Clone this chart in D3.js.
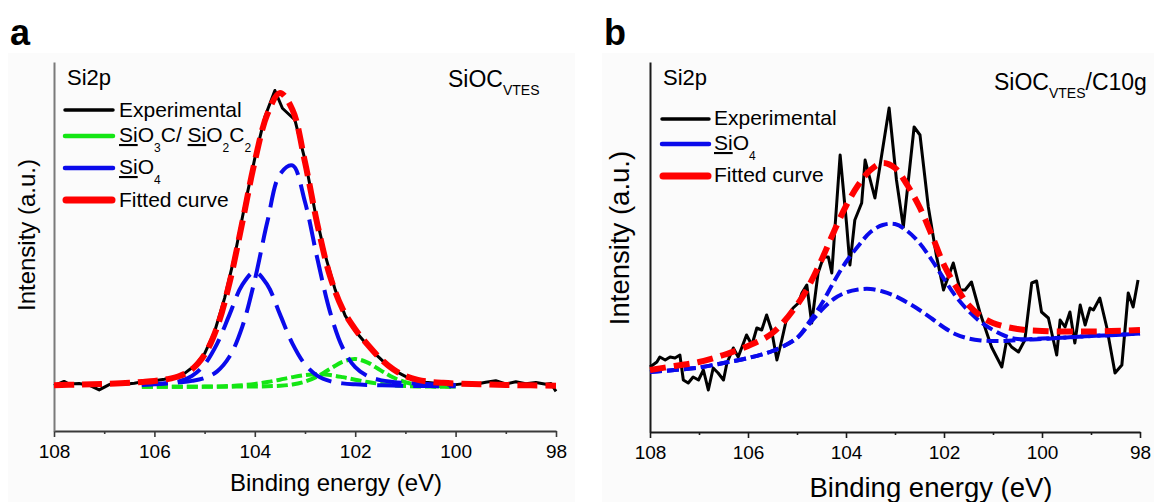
<!DOCTYPE html>
<html><head><meta charset="utf-8">
<script src="https://cdn.jsdelivr.net/npm/d3@7"></script>
<style>
body{margin:0;background:#fff}
svg{display:block}
text{font-family:"Liberation Sans",Arial,sans-serif;fill:#000}
</style>
</head><body>
<svg id="c" width="1154" height="502"></svg>
<script>
// ---------------- DATA ----------------
const majorTicks = [108,106,104,102,100,98];
const minorTicks = [107,105,103,101,99];

// Panel a : experimental
const aExpX = [108,107.8,107.7,107.5,107.3,107.1,106.9,106.8,106.6,106.4,106.2,106,105.8,105.6,105.4,105.2,105,104.8,104.6,104.4,104.2,104,103.8,103.6,103.45,103.2,103,102.8,102.6,102.4,102.2,102,101.8,101.6,101.4,101.2,101,100.8,100.6,100.4,100.2,100,99.8,99.6,99.4,99.2,99,98.8,98.6,98.4,98.2,98.1,98];
const aExpY = [0.5,1.9,1.0,1.2,0.6,-1.0,0.8,1.5,0.9,1.3,1.9,2.1,2.6,3.4,4.6,7.2,11.3,18.8,30.2,44.5,61.5,77.5,91.5,100.5,94.5,90.5,77.0,59.5,44.8,33.0,24.2,19.0,15.0,11.2,8.0,5.4,3.6,2.5,1.6,1.3,1.4,0.8,1.2,0.9,1.6,2.1,1.0,1.8,1.1,1.5,0.9,1.2,-1.5];

// Panel a : fitted curve
const aFitX = [108,107.5,107,106.5,106.25,106,105.75,105.5,105.25,105,104.75,104.5,104.25,104,103.75,103.5,103.25,103,102.75,102.5,102.25,102,101.75,101.5,101.25,101,100.75,100.5,100.25,100,99.5,99,98.5,98];
const aFitY = [0.63,0.8,1.03,1.4,1.7,2.05,2.62,3.7,6.01,10.94,20.3,35.6,55.7,76.5,92.5,99.7,94.0,76.2,54.9,37.5,26.4,19.6,14.3,9.66,6.08,3.71,2.42,1.75,1.4,1.17,0.9,0.68,0.55,0.44];

// Panel a : components
const aCompX = [106.25,106,105.75,105.5,105.25,105,104.75,104.5,104.25,104,103.75,103.5,103.25,103,102.75,102.5,102.25,102,101.75,101.5,101.25,101,100.75,100.5,100.25,100];
const aSiO4a = [0.89,1.06,1.27,1.58,2.07,3.06,5.3,10.4,20.4,36.3,56,72.1,75.1,62.7,43.2,25.4,13.3,6.7,3.66,2.34,1.72,1.36,1.13,0.95,0.81,0.69];
const aSiO4b = [0.70,0.89,1.22,1.97,3.76,7.67,14.7,24.7,34.6,39,34.6,24.7,14.7,7.67,3.76,1.97,1.22,0.89,0.70,0.57,0.48,0.40,0.35,0.30,0.26,0.23];
const aSiOCa = [0.04,0.04,0.05,0.06,0.07,0.08,0.09,0.11,0.14,0.17,0.24,0.41,0.84,1.82,3.62,6.14,8.55,9.5,8.24,5.72,3.28,1.61,0.74,0.37,0.24,0.17];
const aSiOCb = [0.05,0.055,0.065,0.08,0.1,0.13,0.2,0.34,0.6,1.03,1.67,2.48,3.34,4.03,4.3,4.03,3.34,2.48,1.67,1.03,0.6,0.34,0.2,0.13,0.1,0.08];

// Panel b : experimental
const bExpX = [108,107.86,107.8,107.69,107.59,107.49,107.39,107.32,107.22,107.12,107.01,106.91,106.81,106.71,106.61,106.5,106.43,106.3,106.2,106.03,105.92,105.82,105.72,105.62,105.52,105.41,105.31,105.21,105.08,104.97,104.9,104.8,104.7,104.57,104.46,104.36,104.29,104.12,103.99,103.92,103.82,103.68,103.61,103.41,103.12,102.97,102.83,102.61,102.49,102.32,102.15,102.01,101.81,101.67,101.57,101.44,101.27,101.03,100.82,100.72,100.62,100.48,100.35,100.21,100.11,100.01,99.87,99.7,99.63,99.53,99.43,99.33,99.22,99.12,99.02,98.95,98.82,98.68,98.51,98.37,98.24,98.14,98.04];
const bExpY = [65,70,75,72,75,74,77,52,49,55,52,62,42,64,59,52,69,84,75,97,87,104,102,117,102,72,92,114,124,129,139,147,109,159,175,175,159,277,209,167,212,229,272,234,324,252,205,305,297,225,175,142,169,142,142,150,120,85,65,92,85,80,92,149,151,120,114,77,112,105,120,89,127,107,124,122,134,105,59,67,139,125,152];

// Panel b : fitted curve
const bFitX = [108,107.5,107,106.5,106,105.5,105,104.75,104.5,104.25,104,103.75,103.5,103.25,103,102.75,102.5,102.25,102,101.75,101.5,101.25,101,100.5,100,99,98];
const bFitY = [62,66,70,77,86,99,127,147,172,200,226,247,262,269,264,247,225,197,167,145,127,116,109,103,101,100.5,102];

// Panel b : SiO4 components
const bCompX = [108,107.5,107,106.5,106,105.5,105,104.75,104.5,104.25,104,103.75,103.5,103.25,103,102.75,102.5,102.25,102,101.75,101.5,101.25,101,100.75,100.5,100,99.5,99,98.5,98];
const bSiO4a = [60,62,64.5,69,74,81,94,110,128,150,170,186,200,207,208,201,189,172,153,135,121,110,102,96,93,93,94.5,96,97,98.5];
const bSiO4b = [60,62,64.5,69,74,81,94,108,122,133,139.5,142.5,143,140.5,136,129.5,122,113.5,104.5,97.5,93.5,91.5,91,91,92,93.5,94.5,96,97,98.5];

// ---------------- DRAW ----------------
const svg = d3.select("#c");
const FONT = '"Liberation Sans",Arial,sans-serif';
const zip = (xs, ys) => xs.map((v,i)=>[v, ys[i]]);

svg.append("rect").attr("x",8).attr("y",53).attr("width",567).attr("height",449).attr("fill","#fbfbfb");
svg.append("rect").attr("x",602).attr("y",53).attr("width",552).attr("height",449).attr("fill","#fbfbfb");

function panel(cfg){
  const g = svg.append("g");
  const x = d3.scaleLinear().domain([108,98]).range([cfg.x0, cfg.x1]);
  const y = d3.scaleLinear().domain(cfg.yDom).range([cfg.yb, cfg.yt]);

  // minor ticks
  g.append("g").attr("transform",`translate(0,${cfg.yb})`)
    .call(d3.axisBottom(x).tickValues(minorTicks).tickSize(3).tickFormat(""))
    .call(s=>s.select(".domain").remove())
    .call(s=>s.selectAll("line").attr("stroke",cfg.axCol).attr("stroke-width",1.6));
  // major axis
  const ax = g.append("g").attr("transform",`translate(0,${cfg.yb})`)
    .call(d3.axisBottom(x).tickValues(majorTicks).tickSize(6).tickSizeOuter(0).tickPadding(8).tickFormat(d3.format("d")));
  ax.select(".domain").attr("stroke",cfg.axCol).attr("stroke-width",2);
  ax.selectAll("line").attr("stroke",cfg.axCol).attr("stroke-width",1.6);
  ax.selectAll("text").attr("font-size",19).attr("font-family",FONT).attr("fill","#000");
  // left axis (no ticks)
  g.append("g").attr("transform",`translate(${cfg.x0},0)`)
    .call(d3.axisLeft(y).tickValues([]).tickSizeOuter(0))
    .select(".domain").attr("stroke",cfg.leftCol).attr("stroke-width",2);

  // axis titles
  g.append("text").attr("x",cfg.xtX).attr("y",cfg.xtY).attr("text-anchor","middle")
    .attr("font-size",cfg.titleSize).text("Binding energy (eV)");
  g.append("text").attr("transform",`translate(${cfg.ytX},${cfg.ytC}) rotate(-90)`).attr("text-anchor","middle")
    .attr("font-size",cfg.titleSize).text("Intensity (a.u.)");

  const line = d3.line().x(d=>x(d[0])).y(d=>y(d[1]));
  return {g, x, y, line};
}
const smooth = d3.curveCatmullRom.alpha(0.5);

// ---------- Panel a ----------
const A = panel({x0:54,x1:556,yb:431,yt:62,yDom:[-14.92,110.17],axCol:"#3a3a3a",leftCol:"#7a7a7a",
  xtX:336,xtY:491,ytX:35,ytC:235,titleSize:24});
const aLine = d3.line().x(d=>A.x(d[0])).y(d=>A.y(d[1]));
A.g.append("path").datum(zip(aExpX,aExpY)).attr("d",aLine.curve(d3.curveLinear))
  .attr("fill","none").attr("stroke","#000").attr("stroke-width",3).attr("stroke-linejoin","round");
[aSiOCb,aSiOCa].forEach(ys=>{
  A.g.append("path").datum(zip(aCompX,ys)).attr("d",aLine.curve(smooth))
   .attr("fill","none").attr("stroke","#14e614").attr("stroke-width",4).attr("stroke-dasharray","11,4");
});
[aSiO4b,aSiO4a].forEach(ys=>{
  A.g.append("path").datum(zip(aCompX,ys)).attr("d",aLine.curve(smooth))
   .attr("fill","none").attr("stroke","#0a0aeb").attr("stroke-width",4).attr("stroke-dasharray","26,10");
});
A.g.append("path").datum(zip(aFitX,aFitY)).attr("d",aLine.curve(smooth))
  .attr("fill","none").attr("stroke","#f00").attr("stroke-width",6).attr("stroke-dasharray","20,8");

// ---------- Panel b ----------
const B = panel({x0:650,x1:1140,yb:432,yt:62,yDom:[0,370],axCol:"#1a1a1a",leftCol:"#1a1a1a",
  xtX:931,xtY:497,ytX:629,ytC:238,titleSize:27.5});
const bLine = d3.line().x(d=>B.x(d[0])).y(d=>B.y(d[1]));
B.g.append("path").datum(zip(bExpX,bExpY)).attr("d",bLine.curve(d3.curveLinear))
  .attr("fill","none").attr("stroke","#000").attr("stroke-width",3).attr("stroke-linejoin","round");
[bSiO4b,bSiO4a].forEach(ys=>{
  B.g.append("path").datum(zip(bCompX,ys)).attr("d",bLine.curve(smooth))
   .attr("fill","none").attr("stroke","#0a0aeb").attr("stroke-width",4).attr("stroke-dasharray","12,5");
});
B.g.append("path").datum(zip(bFitX,bFitY)).attr("d",bLine.curve(smooth))
  .attr("fill","none").attr("stroke","#f00").attr("stroke-width",6).attr("stroke-dasharray","16,8");

// ---------- Labels & legends ----------
function txt(x,y,size,str,weight){
  return svg.append("text").attr("x",x).attr("y",y).attr("font-size",size).attr("font-weight",weight||"normal").text(str);
}
txt(10,45,36,"a","bold");
txt(604,45,36,"b","bold");
txt(67,85,22,"Si2p");
txt(663,85,22,"Si2p");

function title(x,y,extra){
  const t = svg.append("text").attr("x",x).attr("y",y).attr("font-size",23);
  t.append("tspan").text("SiOC");
  t.append("tspan").attr("font-size",14).attr("dy",8).text("VTES");
  if(extra) t.append("tspan").attr("dy",-8).text(extra);
}
title(448,87);
title(994,90,"/C10g");

function legLine(x0,x1,y,col,w){
  svg.append("line").attr("x1",x0).attr("x2",x1).attr("y1",y).attr("y2",y)
    .attr("stroke",col).attr("stroke-width",w).attr("stroke-linecap","round");
}
function chem(x,y,parts){
  const t = svg.append("text").attr("x",x).attr("y",y).attr("font-size",21);
  let shift = 0;
  parts.forEach(p=>{
    const s = t.append("tspan");
    if(p.sub){ s.attr("font-size",12).attr("dy",10-shift); shift=10; }
    else { s.attr("dy",-shift); shift=0; }
    if(p.u) s.attr("text-decoration","underline");
    s.text(p.t);
  });
}
// panel a legend
legLine(65,113,110,"#000",3.5);
legLine(65,113,136,"#14e614",4.5);
legLine(65,113,168,"#0a0aeb",4.5);
legLine(66,112,200,"#f00",7);
txt(119,117,21,"Experimental");
chem(119,142,[{t:"Si",u:1},{t:"O"},{t:"3",sub:1},{t:"C/ "},{t:"Si",u:1},{t:"O"},{t:"2",sub:1},{t:"C"},{t:"2",sub:1}]);
chem(119,174,[{t:"Si",u:1},{t:"O"},{t:"4",sub:1}]);
txt(119,207,21,"Fitted curve");
// panel b legend
legLine(662,709,119,"#000",3.5);
legLine(662,709,144,"#0a0aeb",4.5);
legLine(663,708,176,"#f00",7);
txt(714,125,21,"Experimental");
chem(714,150,[{t:"Si",u:1},{t:"O"},{t:"4",sub:1}]);
txt(714,182,21,"Fitted curve");
</script>
</body></html>
